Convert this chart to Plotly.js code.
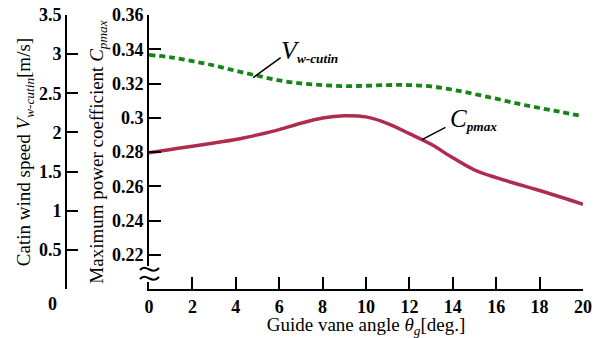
<!DOCTYPE html>
<html>
<head>
<meta charset="utf-8">
<script src="https://cdn.plot.ly/plotly-3.0.1.min.js"></script>
<style>html,body{margin:0;padding:0;background:#fff;}#chart{width:601px;height:338px;}</style>
</head>
<body>
<div id="chart"></div>
<script>
// Guide vane angle [deg.]
const theta = [0,1,2,3,4,5,6,7,8,9,10,11,12,13,14,15,16,17,18,19,20];
// Maximum power coefficient Cpmax
const cpmax = [0.2795,0.2815,0.2834,0.2853,0.2873,0.2900,0.2931,0.2968,0.2999,0.3012,0.3005,0.2966,0.2907,0.2845,0.2766,0.2695,0.2650,0.2612,0.2575,0.2536,0.2495];
// Cut-in wind speed Vw-cutin [m/s]
const vcutin = [2.99,2.96,2.91,2.855,2.787,2.724,2.664,2.626,2.605,2.592,2.596,2.605,2.605,2.588,2.545,2.49,2.431,2.367,2.312,2.26,2.206];
// tick labels
const xTicks = [0,2,4,6,8,10,12,14,16,18,20];
const cpTicks = [0.22,0.24,0.26,0.28,0.30,0.32,0.34,0.36];
const cpTickText = ['0.22','0.24','0.26','0.28','0.3','0.32','0.34','0.36'];
const vTicks = [0,0.5,1,1.5,2,2.5,3,3.5];
const vTickText = ['','0.5','1','1.5','2','2.5','3','3.5'];

const FONT = 'Liberation Serif, Times New Roman, serif';
const tickFont = {family: FONT, size: 18, color: '#000', weight: 'bold'};

const traces = [
  {x: theta, y: cpmax, type: 'scatter', mode: 'lines', yaxis: 'y',
   line: {color: 'rgb(176,44,78)', width: 3.5, shape: 'spline'}, hoverinfo: 'skip'},
  {x: theta, y: vcutin, type: 'scatter', mode: 'lines', yaxis: 'y2',
   line: {color: 'rgb(22,132,22)', width: 3.8, dash: '6px,4px', shape: 'spline'}, hoverinfo: 'skip'}
];

const L = 60, R = 18, T = 15, B = 49;
const W = 601, H = 338;
const plotW = W - L - R, plotH = H - T - B;
const px = v => (v - L) / plotW;          // pixel x -> paper x
const py = v => (H - B - v) / plotH;      // pixel y -> paper y
function tilde(x0, y0) {
  return 'M' + px(x0) + ',' + py(y0) +
         ' C' + px(x0 + 6) + ',' + py(y0 - 7) + ' ' + px(x0 + 12) + ',' + py(y0 + 6) + ' ' + px(x0 + 19) + ',' + py(y0 - 2);
}

const layout = {
  width: W, height: H,
  margin: {l: L, r: R, t: T, b: B, pad: 0},
  paper_bgcolor: '#fff', plot_bgcolor: 'rgba(0,0,0,0)',
  showlegend: false,
  font: {family: FONT, color: '#000'},
  xaxis: {
    domain: [px(149), 1],
    range: [0, 20], tickvals: xTicks, ticks: 'inside', ticklen: 12, tickwidth: 2,
    tickcolor: '#000', showline: true, linewidth: 2, linecolor: '#000',
    showgrid: false, zeroline: false, tickfont: tickFont,
    title: {text: 'Guide vane angle <i>θ</i><sub><i>g</i></sub>[deg.]', font: {family: FONT, size: 19, color: '#000'}, standoff: 4}
  },
  yaxis: {
    range: [0.2, 0.36], tickvals: cpTicks, ticktext: cpTickText, ticks: 'inside', ticklen: 12, tickwidth: 2,
    tickcolor: '#000', showline: true, linewidth: 2, linecolor: '#000',
    showgrid: false, zeroline: false, tickfont: tickFont,
    title: {text: 'Maximum power coefficient <i>C</i><sub><i>pmax</i></sub>', font: {family: FONT, size: 19, color: '#000'}, standoff: 3}
  },
  yaxis2: {
    overlaying: 'y', anchor: 'free', side: 'left', position: px(66),
    range: [0, 3.5], tickvals: vTicks, ticktext: vTickText, ticks: 'inside', ticklen: 11, tickwidth: 2,
    tickcolor: '#000', showline: true, linewidth: 2, linecolor: '#000',
    showgrid: false, zeroline: false, tickfont: tickFont,
    title: {text: 'Catin wind speed <i>V</i><sub><i>w-cutin</i></sub>[m/s]', font: {family: FONT, size: 19, color: '#000'}, standoff: 2}
  },
  shapes: [
    // gap in the Cpmax axis line for the break mark
    {type: 'rect', xref: 'paper', yref: 'paper', x0: px(145), x1: px(154), y0: py(282), y1: py(266),
     fillcolor: '#fff', line: {width: 0}, layer: 'above'},
    {type: 'path', xref: 'paper', yref: 'paper', path: tilde(140, 270), line: {color: '#000', width: 2}, layer: 'above'},
    {type: 'path', xref: 'paper', yref: 'paper', path: tilde(140, 279), line: {color: '#000', width: 2}, layer: 'above'}
  ],
  annotations: [
    // outer axis "0" label (drawn at the x tick label level)
    {xref: 'paper', yref: 'paper', x: px(52), y: 0, yshift: -15, text: '<b>0</b>', showarrow: false,
     font: {family: FONT, size: 18, color: '#000'}, xanchor: 'center', yanchor: 'middle'},
    // V leader line and label
    {xref: 'x', yref: 'y2', x: 4.8, y: 2.70, ax: 29, ay: -21, text: '', showarrow: true, arrowhead: 0, arrowwidth: 1.5, arrowcolor: '#000'},
    {xref: 'x', yref: 'y2', x: 6.0, y: 3.04, text: '<span style="font-size:26px"><i>V</i></span><sub><i><b>w-cutin</b></i></sub>', showarrow: false,
     xanchor: 'left', yanchor: 'middle', font: {family: FONT, size: 19, color: '#000'}},
    // C leader line and label
    {xref: 'x', yref: 'y', x: 12.58, y: 0.2872, ax: 25, ay: -13, text: '', showarrow: true, arrowhead: 0, arrowwidth: 1.5, arrowcolor: '#000'},
    {xref: 'x', yref: 'y', x: 13.8, y: 0.299, text: '<span style="font-size:25px"><i>C</i></span><sub><i><b>pmax</b></i></sub>', showarrow: false,
     xanchor: 'left', yanchor: 'middle', font: {family: FONT, size: 19, color: '#000'}}
  ]
};

Plotly.newPlot('chart', traces, layout, {displayModeBar: false, staticPlot: true});
</script>
</body>
</html>
